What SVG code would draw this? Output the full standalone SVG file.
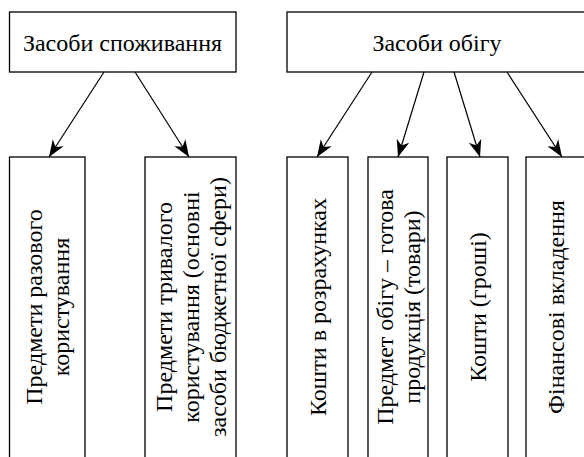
<svg xmlns="http://www.w3.org/2000/svg" width="584" height="457" viewBox="0 0 584 457">
<style>
  .box { fill: #fff; stroke: #000; stroke-width: 1.3; }
  .t { fill: #000; text-anchor: middle; }
  .conn { stroke: #000; stroke-width: 1.2; fill: none; marker-end: url(#arr); }
</style>
<defs>
  <marker id="arr" markerUnits="userSpaceOnUse" markerWidth="20" markerHeight="20" viewBox="-18 -8 20 16" refX="0" refY="0" orient="auto">
    <path d="M0,0 L-17,-6.5 L-12,0 L-17,6.5 Z" fill="#000"/>
  </marker>
</defs>
<rect width="584" height="457" fill="#fff"/>
<g id="n-spozhyvannia">
  <rect class="box" x="9.5" y="12" width="226.5" height="60"/>
  <text class="t" font-family="Liberation Serif" font-size="24" x="122.5" y="51">Засоби споживання</text>
</g>
<g id="n-obigu">
  <rect class="box" x="287" y="12" width="310" height="60"/>
  <text class="t" font-family="Liberation Serif" font-size="24" x="437" y="51">Засоби обігу</text>
</g>
<g id="n-razovoho">
  <rect class="box" x="9.5" y="157" width="75.5" height="320"/>
  <text class="t" font-family="Liberation Serif" font-size="24" transform="translate(47,307) rotate(-90)"><tspan x="0" y="-5.5">Предмети разового</tspan><tspan x="0" y="21.5">користування</tspan></text>
</g>
<g id="n-tryvaloho">
  <rect class="box" x="145" y="157" width="91" height="320"/>
  <text class="t" font-family="Liberation Serif" font-size="24" transform="translate(190.5,307) rotate(-90)"><tspan x="0" y="-19">Предмети тривалого</tspan><tspan x="0" y="8">користування (основні</tspan><tspan x="0" y="35">засоби бюджетної сфери)</tspan></text>
</g>
<g id="n-rozrakhunky">
  <rect class="box" x="287" y="157" width="61" height="320"/>
  <text class="t" font-family="Liberation Serif" font-size="24" transform="translate(317.5,307) rotate(-90)" y="8">Кошти в розрахунках</text>
</g>
<g id="n-tovary">
  <rect class="box" x="368" y="157" width="60" height="320"/>
  <text class="t" font-family="Liberation Serif" font-size="24" transform="translate(398,307) rotate(-90)"><tspan x="0" y="-5.5">Предмет обігу – готова</tspan><tspan x="0" y="21.5">продукція (товари)</tspan></text>
</g>
<g id="n-groshi">
  <rect class="box" x="447" y="157" width="61" height="320"/>
  <text class="t" font-family="Liberation Serif" font-size="24" transform="translate(477.5,307) rotate(-90)" y="8">Кошти (гроші)</text>
</g>
<g id="n-finansovi">
  <rect class="box" x="526" y="157" width="70" height="320"/>
  <text class="t" font-family="Liberation Serif" font-size="24" transform="translate(556,307) rotate(-90)" y="8">Фінансові вкладення</text>
</g>
<g id="connectors">
  <line class="conn" x1="104" y1="72" x2="49" y2="157"/>
  <line class="conn" x1="135" y1="72" x2="189" y2="157"/>
  <line class="conn" x1="372" y1="72" x2="317" y2="157"/>
  <line class="conn" x1="424" y1="72" x2="398" y2="157"/>
  <line class="conn" x1="454" y1="72" x2="480" y2="157"/>
  <line class="conn" x1="507" y1="72" x2="562" y2="157"/>
</g>
</svg>
